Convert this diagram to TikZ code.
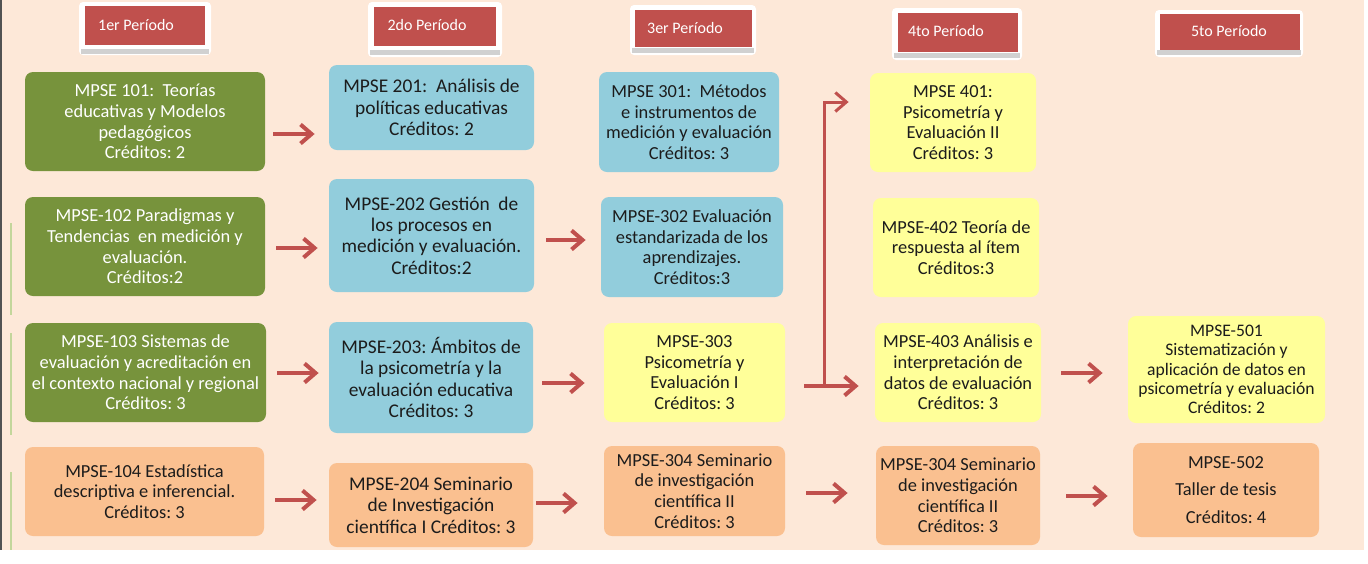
\documentclass[tikz,border=0pt]{standalone}
\usepackage{fontspec}
\setmainfont{Carlito}
\usetikzlibrary{arrows.meta}
\frenchspacing
\definecolor{fondo}{HTML}{FDE8D8}
\definecolor{verde}{HTML}{77933C}
\definecolor{azul}{HTML}{92CDDC}
\definecolor{amarillo}{HTML}{FFFF99}
\definecolor{naranja}{HTML}{FAC090}
\definecolor{rojo}{HTML}{C0504D}
\definecolor{texto}{HTML}{1C1C1C}
\definecolor{lineaverde}{HTML}{C3D69B}
\tikzset{tam/.style 2 args={minimum width=#1,minimum height=#2}}
\tikzset{curso/.style={rounded corners=4pt,inner sep=2pt,align=center,text=texto,font=\fontsize{9.2}{10.3}\selectfont}}
\tikzset{verde/.style={curso,fill=verde,text=white}}
\tikzset{azul/.style={curso,fill=azul}}
\tikzset{amarillo/.style={curso,fill=amarillo}}
\tikzset{naranja/.style={curso,fill=naranja}}
\tikzset{ancho/.style={font=\fontsize{9.7}{10.7}\selectfont}}
\tikzset{marco/.style={fill=white,rounded corners=2pt,inner sep=0pt}}
\tikzset{periodo/.style={fill=rojo,inner sep=0pt}}
\tikzset{titulo/.style={text=white,inner sep=0pt,font=\fontsize{8}{9.6}\selectfont}}
\tikzset{sombra/.style={fill=black!18}}
\tikzset{flecha/.style={draw=rojo,line width=2pt,-{Straight Barb[length=5.5pt,width=9.5pt]}}}
\tikzset{rama/.style={draw=rojo,line width=1.5pt,-{Straight Barb[length=5.5pt,width=9.5pt]}}}

\begin{document}
\begin{tikzpicture}[x=0.5pt,y=-0.5pt]
  \useasboundingbox (0,0) rectangle (1368,563);
  \fill[fondo] (0,0) rectangle (1364,550);
  \fill[black!68] (0,0) rectangle (2,550);
  \draw[lineaverde,line width=1pt] (11,223) -- (11,315) (11,333) -- (11,435) (11,472) -- (11,550);
  % periodos
  \node[marco,tam={66pt}{26.5pt}] (m1) at (145,28.5) {};
  \node[marco,tam={67pt}{27.5pt}] (m2) at (435,29.5) {};
  \node[marco,tam={63pt}{25pt}] (m3) at (693,30) {};
  \node[marco,tam={65pt}{26pt}] (m4) at (957,34) {};
  \node[marco,tam={74pt}{23.5pt}] (m5) at (1229,33.5) {};
  \fill[sombra] (81,49) rectangle (209,54);
  \fill[sombra] (370,50) rectangle (500,55);
  \fill[sombra] (632,48) rectangle (754,53);
  \fill[sombra] (894,53) rectangle (1020,58);
  \fill[sombra] (1157,50) rectangle (1301,55);
  \node[periodo,tam={60pt}{19.5pt}] (p1) at (145,25.5) {};
  \node[periodo,tam={61pt}{19.5pt}] (p2) at (435,26.5) {};
  \node[periodo,tam={58.5pt}{18.5pt}] (p3) at (693.5,28.5) {};
  \node[periodo,tam={60pt}{19.5pt}] (p4) at (958,32.5) {};
  \node[periodo,tam={70pt}{18pt}] (p5) at (1230,32) {};
  \node[titulo] (t1) at (136,25) {1er Período};
  \node[titulo] (t2) at (427,25) {2do Período};
  \node[titulo] (t3) at (685,28) {3er Período};
  \node[titulo] (t4) at (946,31) {4to Período};
  \node[titulo] (t5) at (1229,31) {5to Período};
  % cursos
  \node[verde,tam={120pt}{49.5pt}] (c101) at (145,121.5) {MPSE 101:\ \ Teorías\\educativas y Modelos\\pedagógicos\\Créditos: 2};
  \node[verde,tam={120pt}{49.5pt}] (c102) at (145,246.5) {MPSE-102 Paradigmas y\\Tendencias\ \ en medición y\\evaluación.\\Créditos:2};
  \node[verde,tam={120.5pt}{49.5pt}] (c103) at (145.5,372.5) {MPSE-103 Sistemas de\\evaluación y acreditación en\\el contexto nacional y regional\\Créditos: 3};
  \node[naranja,tam={119.5pt}{44.5pt}] (c104) at (144.5,491.5) {MPSE-104 Estadística\\descriptiva e inferencial.\\Créditos: 3};
  \node[azul,ancho,tam={102.5pt}{42.5pt}] (c201) at (431.5,107.5) {MPSE 201:\ \ Análisis de\\políticas educativas\\Créditos: 2};
  \node[azul,ancho,tam={102.5pt}{56.5pt}] (c202) at (431.5,235.5) {MPSE-202 Gestión\ \ de\\los procesos en\\medición y evaluación.\\Créditos:2};
  \node[azul,ancho,tam={102pt}{55.5pt}] (c203) at (431,377.5) {MPSE-203: Ámbitos de\\la psicometría y la\\evaluación educativa\\Créditos: 3};
  \node[naranja,ancho,tam={102pt}{42pt}] (c204) at (431,505) {MPSE-204 Seminario\\de Investigación\\científica I Créditos: 3};
  \node[azul,tam={90pt}{50pt}] (c301) at (689,122) {MPSE 301:\ \ Métodos\\e instrumentos de\\medición y evaluación\\Créditos: 3};
  \node[azul,tam={91pt}{50pt}] (c302) at (692,247) {MPSE-302 Evaluación\\estandarizada de los\\aprendizajes.\\Créditos:3};
  \node[amarillo,tam={90.5pt}{49.5pt}] (c303) at (694.5,372.5) {MPSE-303\\Psicometría y\\Evaluación I\\Créditos: 3};
  \node[naranja,tam={90.5pt}{45pt}] (c304) at (694.5,491) {MPSE-304 Seminario\\de investigación\\científica II\\Créditos: 3};
  \node[amarillo,tam={83pt}{49.5pt}] (c401) at (953,122.5) {MPSE 401:\\Psicometría y\\Evaluación II\\Créditos: 3};
  \node[amarillo,tam={83pt}{49.5pt}] (c402) at (956,247.5) {MPSE-402 Teoría de\\respuesta al ítem\\Créditos:3};
  \node[amarillo,tam={83pt}{49.5pt}] (c403) at (958,372.5) {MPSE-403 Análisis e\\interpretación de\\datos de evaluación\\Créditos: 3};
  \node[naranja,tam={82pt}{49.5pt}] (c404) at (958,495.5) {MPSE-304 Seminario\\de investigación\\científica II\\Créditos: 3};
  \node[amarillo,tam={98.5pt}{53.5pt},font=\fontsize{8.8}{9.7}\selectfont] (c501) at (1226.5,369.5) {MPSE-501\\Sistematización y\\aplicación de datos en\\psicometría y evaluación\\Créditos: 2};
  \node[naranja,tam={93pt}{47pt}] (c502) at (1226,490) {MPSE-502\\[3.5pt]Taller de tesis\\[3.5pt]Créditos: 4};
  % conexiones
  \draw[flecha,shorten <=4pt,shorten >=7pt] (c101.east |- 0,134) -- (c201.west |- 0,134);
  \draw[flecha,shorten <=5.5pt,shorten >=5.5pt] (c102.east |- 0,248) -- (c202.west |- 0,248);
  \draw[flecha,shorten <=5.5pt,shorten >=5pt] (c103.east |- 0,373) -- (c203.west |- 0,373);
  \draw[flecha,shorten <=5.5pt,shorten >=6pt] (c104.east |- 0,500) -- (c204.west |- 0,500);
  \draw[flecha,shorten <=6pt,shorten >=7.5pt] (c202.east |- 0,240) -- (c302.west |- 0,240);
  \draw[flecha,shorten <=4.5pt,shorten >=9.5pt] (c203.east |- 0,383) -- (c303.west |- 0,383);
  \draw[flecha,shorten <=1.5pt,shorten >=13pt] (c204.east |- 0,503) -- (c304.west |- 0,503);
  \draw[flecha,shorten <=9.5pt,shorten >=8pt] (c303.east |- 0,386) -- (c403.west |- 0,386);
  \coordinate (bif) at (824,386);
  \draw[rama,shorten >=10.5pt] (bif) |- (c401.west |- 0,102);
  \draw[flecha,shorten <=10.5pt,shorten >=14pt] (c304.east |- 0,493) -- (c404.west |- 0,493);
  \draw[flecha,shorten <=10pt,shorten >=12.5pt] (c403.east |- 0,373) -- (c501.west |- 0,373);
  \draw[flecha,shorten <=13pt,shorten >=12.5pt] (c404.east |- 0,496) -- (c502.west |- 0,496);
\end{tikzpicture}
\end{document}
